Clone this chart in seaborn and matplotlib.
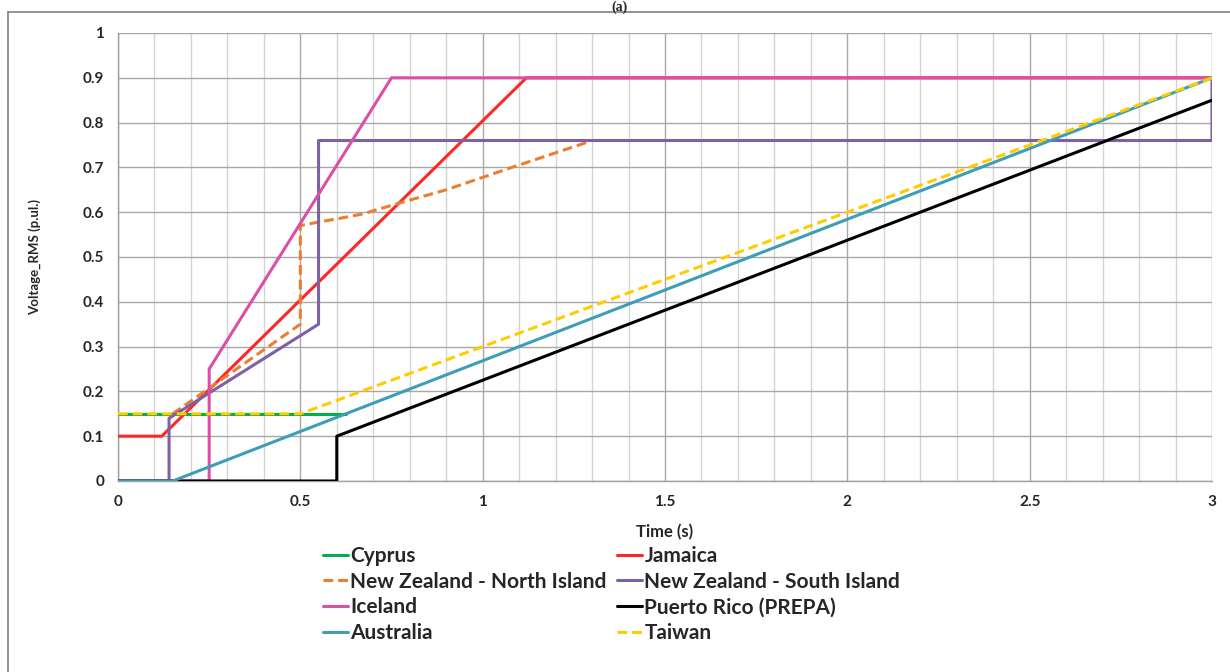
import numpy as np
import pandas as pd
import matplotlib
matplotlib.use("Agg")
import matplotlib.pyplot as plt
import seaborn as sns
from matplotlib.lines import Line2D

# data
cyprus_t = [0, 0.625]
cyprus_v = [0.15, 0.15]

jamaica_t = [0, 0.12, 1.12, 3]
jamaica_v = [0.1, 0.1, 0.9, 0.9]

nz_north_t = [0.15, 0.5, 0.5, 0.55, 0.6, 0.67, 0.77, 0.9, 1.08, 1.29]
nz_north_v = [0.15, 0.35, 0.57, 0.578, 0.585, 0.596, 0.62, 0.65, 0.70, 0.757]

nz_south_t = [0, 0.14, 0.14, 0.55, 0.55, 3, 3]
nz_south_v = [0, 0, 0.14, 0.35, 0.76, 0.76, 0.9]

iceland_t = [0, 0.25, 0.25, 0.75, 3]
iceland_v = [0, 0, 0.25, 0.9, 0.9]

prepa_t = [0, 0.6, 0.6, 3]
prepa_v = [0, 0, 0.1, 0.85]

australia_t = [0, 0.15, 3]
australia_v = [0, 0, 0.9]

taiwan_t = [0, 0.5, 3]
taiwan_v = [0.15, 0.15, 0.9]

# drawing order: later ones on top
series = [
    ("Cyprus", cyprus_t, cyprus_v, "#00B050", "-"),
    ("Jamaica", jamaica_t, jamaica_v, "#FF2626", "-"),
    ("New Zealand - North Island", nz_north_t, nz_north_v, "#ED7D31", (0, (3.2, 1.6))),
    ("New Zealand - South Island", nz_south_t, nz_south_v, "#7E60A4", "-"),
    ("Iceland", iceland_t, iceland_v, "#DC4FA6", "-"),
    ("Puerto Rico (PREPA)", prepa_t, prepa_v, "#000000", "-"),
    ("Australia", australia_t, australia_v, "#3E9DB7", "-"),
    ("Taiwan", taiwan_t, taiwan_v, "#FFCC00", (0, (3.2, 1.6))),
]

sns.set_style("white")
plt.rcParams['font.family'] = ['Lato', 'DejaVu Sans']

fig = plt.figure(figsize=(12.3, 6.72), dpi=100)
ax = fig.add_axes([118 / 1230, 1 - 481 / 672, (1212 - 118) / 1230, (481 - 33) / 672])

lw = 2.2
handles = {}
for name, t, v, col, ls in series:
    df = pd.DataFrame({"t": t, "v": v})
    sns.lineplot(data=df, x="t", y="v", sort=False, estimator=None, color=col,
                 linestyle=ls, linewidth=lw, ax=ax, zorder=3)
    handles[name] = Line2D([], [], color=col, linestyle=ls, linewidth=lw)

ax.set_xlim(0, 3)
ax.set_ylim(0, 1)
ax.set_xticks(np.arange(0, 3.01, 0.5))
ax.set_xticklabels(["0", "0.5", "1", "1.5", "2", "2.5", "3"])
ax.set_xticks(np.arange(0, 3.01, 0.1), minor=True)
ax.set_yticks(np.arange(0, 1.01, 0.1))
ax.set_yticklabels(["0", "0.1", "0.2", "0.3", "0.4", "0.5", "0.6", "0.7", "0.8", "0.9", "1"])

ax.grid(True, which="major", axis="both", color="#A8A8A8", linewidth=1.0, zorder=0)
ax.grid(True, which="minor", axis="x", color="#D4D4D4", linewidth=1.0, zorder=0)
ax.set_axisbelow(True)

for s in ["top", "right"]:
    ax.spines[s].set_visible(False)
for s in ["left", "bottom"]:
    ax.spines[s].set_color("#A0A0A0")
    ax.spines[s].set_linewidth(1.0)

ax.tick_params(axis="both", which="major", direction="out", length=5, color="#A0A0A0",
               labelsize=11, pad=5)
ax.tick_params(axis="x", which="minor", length=0)
for lab in ax.get_xticklabels() + ax.get_yticklabels():
    lab.set_fontweight("bold")

ax.set_xlabel("Time (s)", fontsize=12, fontweight="bold", labelpad=11)
ax.set_ylabel("Voltage_RMS (p.ul.)", fontsize=9.5, fontweight="bold", labelpad=30)

# legend in two columns
col1 = ["Cyprus", "New Zealand - North Island", "Iceland", "Australia"]
col2 = ["Jamaica", "New Zealand - South Island", "Puerto Rico (PREPA)", "Taiwan"]
for names, x0 in [(col1, 323 / 1230), (col2, 617 / 1230)]:
    fig.legend([handles[n] for n in names], names, loc="upper left",
               bbox_to_anchor=(x0, 1 - 546 / 672), frameon=False,
               prop={"weight": "bold", "size": 15}, handlelength=1.2,
               handletextpad=0.12, labelspacing=0.27, borderpad=0,
               borderaxespad=0)

# outer frame and panel title
fig.add_artist(Line2D([8 / 1230, 8 / 1230], [0, 1 - 12 / 672], transform=fig.transFigure,
                      color="#808080", linewidth=1.2))
fig.add_artist(Line2D([8 / 1230, 1], [1 - 12 / 672, 1 - 12 / 672], transform=fig.transFigure,
                      color="#808080", linewidth=1.2))
fig.text(620 / 1230, 1 - 0.5 / 672, "(a)", ha="center", va="top", fontsize=10,
         fontweight="bold", family="Liberation Serif")

fig.savefig("out.png", dpi=100)
